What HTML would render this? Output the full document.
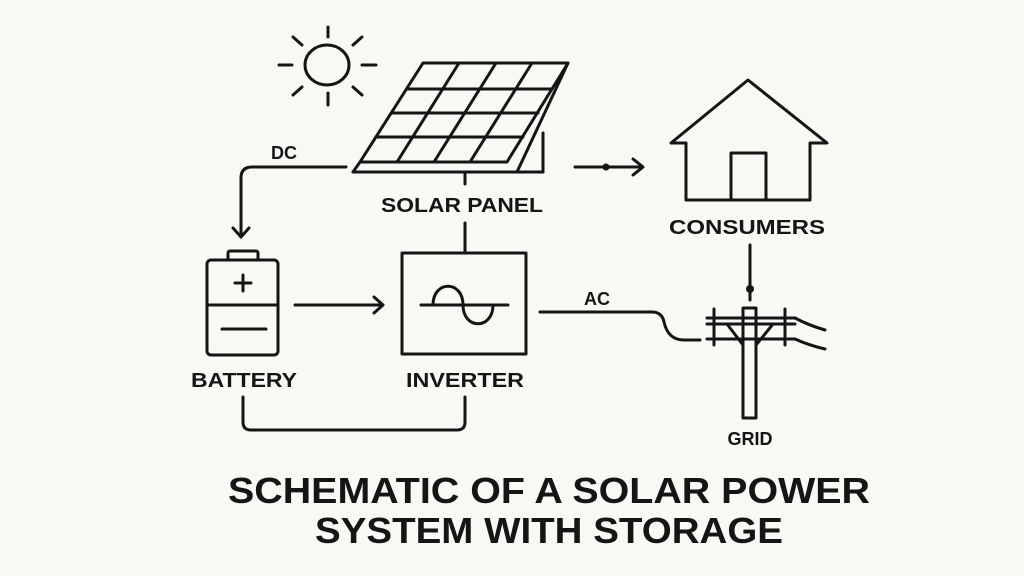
<!DOCTYPE html>
<html><head><meta charset="utf-8"><style>
html,body{margin:0;padding:0;background:#f9f8f4;}
svg{display:block}
text{font-family:"Liberation Sans",sans-serif;font-weight:bold;fill:#151515}
</style></head><body>
<svg width="1024" height="576" viewBox="0 0 1024 576" xmlns="http://www.w3.org/2000/svg">
<rect width="1024" height="576" fill="#f9f8f4"/>
<g fill="none" stroke="#151515" stroke-width="3" stroke-linecap="round" stroke-linejoin="round">
<!-- sun -->
<ellipse cx="327" cy="65" rx="22" ry="20"/>
<line x1="328" y1="27" x2="328" y2="37"/><line x1="328" y1="93" x2="328" y2="105"/>
<line x1="279" y1="65" x2="292" y2="65"/><line x1="362" y1="65" x2="376" y2="65"/>
<line x1="293" y1="37" x2="302" y2="45"/><line x1="362" y1="37" x2="353" y2="45"/>
<line x1="293" y1="95" x2="302" y2="87"/><line x1="362" y1="95" x2="353" y2="87"/>
<!-- panel -->
<polygon points="423,63 568,63 507,162 360,162"/>
<line x1="407" y1="89" x2="552" y2="89"/>
<line x1="392" y1="113" x2="538" y2="113"/>
<line x1="376" y1="137" x2="523" y2="137"/>
<line x1="459" y1="63" x2="397" y2="162"/>
<line x1="496" y1="63" x2="434" y2="162"/>
<line x1="532" y1="63" x2="470" y2="162"/>
<line x1="360" y1="162" x2="353" y2="172"/>
<line x1="353" y1="172" x2="543" y2="172"/>
<line x1="568" y1="63" x2="517" y2="172"/>
<line x1="543" y1="133" x2="543" y2="172"/>
<line x1="465" y1="173" x2="465" y2="184"/>
<line x1="465" y1="223" x2="465" y2="253"/>
<!-- inverter -->
<rect x="402" y="253" width="124" height="101"/>
<line x1="421" y1="305" x2="508" y2="305"/>
<path d="M433,305 C433,280 463,280 463,305 C463,330 493,330 493,305"/>
<!-- battery -->
<rect x="207" y="260" width="71" height="95" rx="4"/>
<rect x="228" y="251" width="30" height="9" rx="2"/>
<line x1="207" y1="305" x2="278" y2="305"/>
<line x1="243" y1="275" x2="243" y2="291"/><line x1="235" y1="283" x2="251" y2="283"/>
<line x1="222" y1="329" x2="266" y2="329"/>
<!-- battery->inverter arrow -->
<line x1="295" y1="305" x2="382" y2="305"/><polyline points="374,297 383,305 374,313"/>
<!-- bottom connector -->
<path d="M243,397 V422 Q243,430 251,430 H457 Q465,430 465,422 V397"/>
<!-- DC -->
<path d="M346,167 H252 Q241,167 241,178 V237"/><polyline points="233,228 241,237 249,228"/>
<!-- AC -->
<path d="M540,312 H652 Q662,312 664,322 Q668,340 684,340 H700"/>
<!-- consumer arrow -->
<line x1="575" y1="167" x2="642" y2="167"/><polyline points="633,159 643,167 633,175"/>
<!-- house -->
<polygon points="671,143 748,80 827,143 810,143 810,200 686,200 686,143"/>
<rect x="731" y="153" width="35" height="47"/>
<!-- pole -->
<line x1="750" y1="245" x2="750" y2="300"/>
<rect x="743" y="308" width="13" height="110"/>
<line x1="707" y1="318" x2="795" y2="318"/><line x1="707" y1="324" x2="795" y2="324"/><line x1="707" y1="339" x2="795" y2="339"/>
<line x1="714" y1="309" x2="714" y2="345"/><line x1="785" y1="309" x2="785" y2="345"/>
<line x1="727" y1="324" x2="743" y2="345"/><line x1="773" y1="324" x2="756" y2="345"/>
<path d="M795,318 Q808,325 825,330"/><path d="M795,339 Q808,345 825,349"/>
</g>
<circle cx="750" cy="289" r="4" fill="#151515"/>
<circle cx="606" cy="167" r="3.5" fill="#151515"/>
<text x="271" y="159" font-size="18">DC</text>
<text x="462" y="212" font-size="20" text-anchor="middle" textLength="162" lengthAdjust="spacingAndGlyphs">SOLAR PANEL</text>
<text x="244" y="387" font-size="20" text-anchor="middle" textLength="106" lengthAdjust="spacingAndGlyphs">BATTERY</text>
<text x="465" y="387" font-size="20" text-anchor="middle" textLength="118" lengthAdjust="spacingAndGlyphs">INVERTER</text>
<text x="597" y="305" font-size="18" text-anchor="middle">AC</text>
<text x="747" y="234" font-size="20" text-anchor="middle" textLength="156" lengthAdjust="spacingAndGlyphs">CONSUMERS</text>
<text x="750" y="445" font-size="18" text-anchor="middle">GRID</text>
<text x="549" y="503" font-size="36" text-anchor="middle" textLength="642" lengthAdjust="spacingAndGlyphs">SCHEMATIC OF A SOLAR POWER</text>
<text x="549" y="543" font-size="36" text-anchor="middle" textLength="468" lengthAdjust="spacingAndGlyphs">SYSTEM WITH STORAGE</text>
</svg>
</body></html>
